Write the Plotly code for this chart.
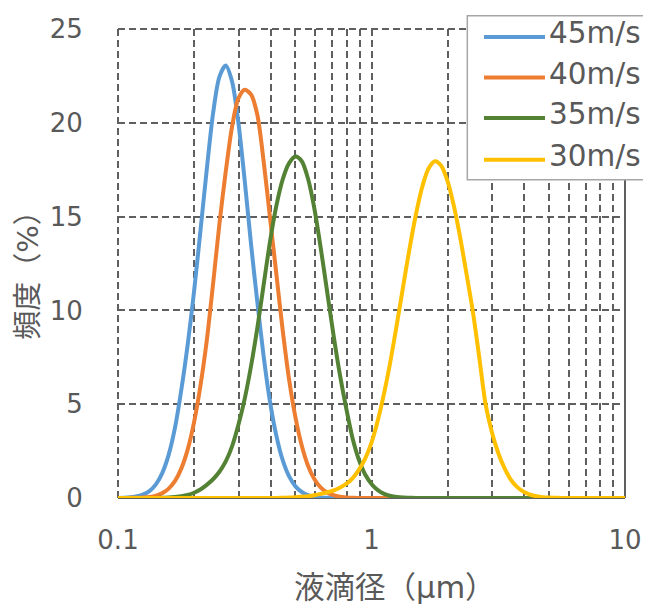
import plotly.graph_objects as go

# Droplet diameter (µm), log-spaced sample points
diameter_um = [
    0.1, 0.1059, 0.1122, 0.1189, 0.1259, 0.1334, 0.1413, 0.1496, 0.1585, 0.1679,
    0.1778, 0.1884, 0.1995, 0.2113, 0.2239, 0.2371, 0.2512, 0.2661, 0.2818, 0.2985,
    0.3162, 0.3350, 0.3548, 0.3758, 0.3981, 0.4217, 0.4467, 0.4732, 0.5012, 0.5309,
    0.5623, 0.5957, 0.6310, 0.6683, 0.7079, 0.7499, 0.7943, 0.8414, 0.8913, 0.9441,
    1.0, 1.059, 1.122, 1.189, 1.259, 1.334, 1.413, 1.496, 1.585, 1.679,
    1.778, 1.884, 1.995, 2.113, 2.239, 2.371, 2.512, 2.661, 2.818, 2.985,
    3.162, 3.350, 3.548, 3.758, 3.981, 4.217, 4.467, 4.732, 5.012, 5.309,
    5.623, 5.957, 6.310, 6.683, 7.079, 7.499, 7.943, 8.414, 8.913, 9.441,
    10.0,
]

freq_45 = [
    0, 0.01, 0.04, 0.09, 0.19, 0.38, 0.74, 1.34, 2.31, 3.76,
    5.78, 8.2, 11.0, 14.2, 17.5, 20.5, 22.45, 23.05, 22.2, 20.0,
    16.9, 13.5, 10.4, 7.5, 5.1, 3.3, 2.0, 1.15, 0.62, 0.32,
    0.15, 0.07, 0.03, 0.01, 0, 0, 0, 0, 0, 0,
    0, 0, 0, 0, 0, 0, 0, 0, 0, 0,
    0, 0, 0, 0, 0, 0, 0, 0, 0, 0,
    0, 0, 0, 0, 0, 0, 0, 0, 0, 0,
    0, 0, 0, 0, 0, 0, 0, 0, 0, 0,
    0,
]

freq_40 = [
    0, 0, 0.01, 0.01, 0.03, 0.06, 0.13, 0.26, 0.5, 0.91,
    1.58, 2.59, 4.03, 5.96, 8.38, 11.4, 14.6, 17.4, 19.8, 21.3,
    21.76, 21.5, 20.4, 17.9, 14.9, 11.9, 8.9, 6.3, 4.3, 2.79,
    1.71, 1.0, 0.55, 0.29, 0.15, 0.07, 0.03, 0.01, 0, 0,
    0, 0, 0, 0, 0, 0, 0, 0, 0, 0,
    0, 0, 0, 0, 0, 0, 0, 0, 0, 0,
    0, 0, 0, 0, 0, 0, 0, 0, 0, 0,
    0, 0, 0, 0, 0, 0, 0, 0, 0, 0,
    0,
]

freq_35 = [
    0, 0, 0, 0, 0, 0, 0, 0.01, 0.02, 0.05,
    0.09, 0.16, 0.28, 0.45, 0.7, 1.0, 1.4, 1.95, 2.75, 3.9,
    5.3, 7.05, 9.1, 11.4, 13.7, 15.6, 17.0, 17.85, 18.2, 17.95,
    17.0, 15.4, 13.3, 11.0, 8.7, 6.6, 4.8, 3.2, 2.05, 1.25,
    0.75, 0.42, 0.22, 0.11, 0.05, 0.02, 0.01, 0, 0, 0,
    0, 0, 0, 0, 0, 0, 0, 0, 0, 0,
    0, 0, 0, 0, 0, 0, 0, 0, 0, 0,
    0, 0, 0, 0, 0, 0, 0, 0, 0, 0,
    0,
]

freq_30 = [
    0, 0, 0, 0, 0, 0, 0, 0, 0, 0,
    0, 0, 0, 0, 0, 0, 0, 0, 0, 0,
    0, 0, 0, 0, 0, 0, 0.01, 0.02, 0.04, 0.07,
    0.1, 0.15, 0.22, 0.3, 0.4, 0.55, 0.75, 1.05, 1.5, 2.1,
    2.95, 4.13, 5.6, 7.33, 9.26, 11.3, 13.3, 15.1, 16.58, 17.56,
    17.95, 17.71, 16.89, 15.57, 13.87, 11.93, 9.92, 7.5, 5.0, 3.5,
    2.4, 1.58, 0.97, 0.58, 0.33, 0.18, 0.09, 0.04, 0.02, 0.01,
    0, 0, 0, 0, 0, 0, 0, 0, 0, 0,
    0,
]

series_names = ["45m/s", "40m/s", "35m/s", "30m/s"]
series_values = [freq_45, freq_40, freq_35, freq_30]
series_colors = ["#5B9BD5", "#ED7D31", "#548235", "#FFC000"]

x_tick_vals = [0.1, 0.2, 0.3, 0.4, 0.5, 0.6, 0.7, 0.8, 0.9,
               1, 2, 3, 4, 5, 6, 7, 8, 9, 10]
x_tick_text = ["0.1", "", "", "", "", "", "", "", "",
               "1", "", "", "", "", "", "", "", "", "10"]
y_tick_vals = [0, 5, 10, 15, 20, 25]

x_title = "液滴径（μm）"
y_title = "頻度（%）"

FONT = "DejaVu Sans, Noto Sans CJK JP, sans-serif"
TEXT_COLOR = "#595959"
GRID_COLOR = "#5f5f5f"
GRID_DASH = "7px,4px"

fig = go.Figure()
for name, vals, col in zip(series_names, series_values, series_colors):
    fig.add_trace(go.Scatter(
        x=diameter_um, y=vals, name=name, mode="lines",
        line=dict(color=col, width=4, shape="spline", smoothing=0.8),
        showlegend=False,
    ))

# page body has an 8px margin, so the figure is sized to end at the window edge
fig.update_layout(
    width=643, height=598,
    margin=dict(l=110, r=26, t=21, b=108),
    paper_bgcolor="white", plot_bgcolor="white",
    font=dict(family=FONT, color=TEXT_COLOR),
    showlegend=False,
)

fig.update_xaxes(
    type="log", range=[-1, 1], automargin=False,
    tickmode="array", tickvals=x_tick_vals, ticktext=x_tick_text,
    showgrid=True, gridcolor=GRID_COLOR, gridwidth=2, griddash=GRID_DASH,
    zeroline=False, showline=False,
    ticks="outside", ticklen=19, tickcolor="rgba(0,0,0,0)",
    tickfont=dict(size=26, color=TEXT_COLOR, family=FONT),
)
fig.update_yaxes(
    range=[0, 25], tickmode="array", tickvals=y_tick_vals, automargin=False,
    showgrid=True, gridcolor=GRID_COLOR, gridwidth=2, griddash=GRID_DASH,
    zeroline=False, showline=False,
    ticks="outside", ticklen=29, tickcolor="rgba(0,0,0,0)",
    tickfont=dict(size=26, color=TEXT_COLOR, family=FONT),
)

# plot frame: dashed top/left (grid at range edges), solid right and bottom
fig.add_shape(type="line", xref="paper", yref="paper", x0=0, x1=1, y0=1, y1=1,
              line=dict(color=GRID_COLOR, width=2, dash=GRID_DASH), layer="below")
fig.add_shape(type="line", xref="paper", yref="paper", x0=0, x1=0, y0=0, y1=1,
              line=dict(color=GRID_COLOR, width=2, dash=GRID_DASH), layer="below")
fig.add_shape(type="line", xref="paper", yref="paper", x0=1, x1=1, y0=0, y1=1,
              line=dict(color=GRID_COLOR, width=2), layer="below")
fig.add_shape(type="line", xref="paper", yref="paper", x0=0, x1=1, y0=0, y1=0,
              line=dict(color=GRID_COLOR, width=2), layer="below")

# axis titles
fig.add_annotation(text=x_title, xref="paper", yref="paper", x=0.5464, y=-0.191,
                   xanchor="center", yanchor="middle", showarrow=False,
                   font=dict(size=30.5, color=TEXT_COLOR, family=FONT))
fig.add_annotation(text=y_title, xref="paper", yref="paper", x=-0.1765, y=0.49,
                   xanchor="center", yanchor="middle", showarrow=False, textangle=-90,
                   font=dict(size=29, color=TEXT_COLOR, family=FONT))

# legend box (drawn manually to match the long line samples)
fig.add_shape(type="rect", xref="paper", yref="paper",
              x0=0.689, x1=1.047, y0=0.6787, y1=1.0284,
              line=dict(color="#a6a6a6", width=1.5), fillcolor="white", layer="above")
row_y = [0.983, 0.8968, 0.8102, 0.7213]
for name, col, yy in zip(series_names, series_colors, row_y):
    fig.add_shape(type="line", xref="paper", yref="paper",
                  x0=0.7219, x1=0.8422, y0=yy, y1=yy,
                  line=dict(color=col, width=4), layer="above")
    fig.add_annotation(text=name, xref="paper", yref="paper", x=0.8461, y=yy + 0.008,
                       xanchor="left", yanchor="middle", showarrow=False,
                       font=dict(size=29.5, color=TEXT_COLOR, family=FONT))

fig.write_html("out.html")
